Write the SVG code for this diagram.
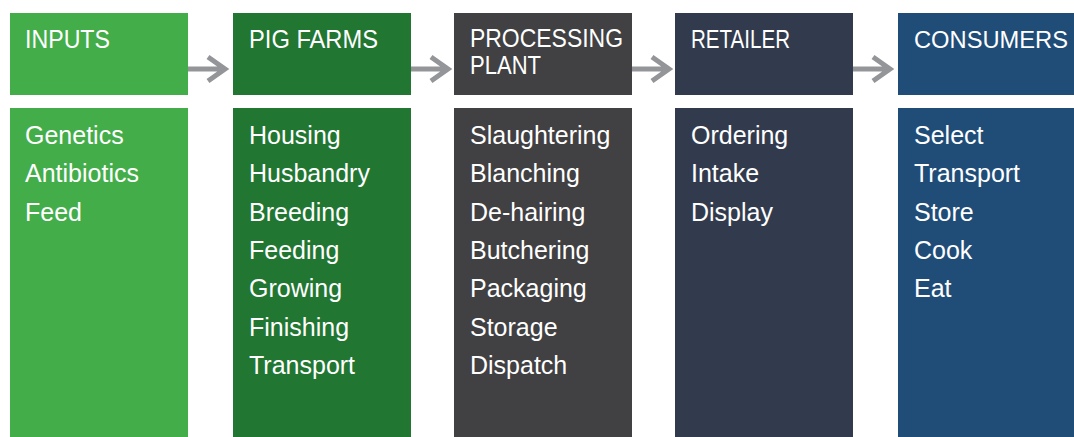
<svg xmlns="http://www.w3.org/2000/svg" width="1074" height="437" viewBox="0 0 1074 437">
<style>
.hd{font-family:"Liberation Sans",Arial,sans-serif;font-size:25px;fill:#fff}
.bd{font-family:"Liberation Sans",Arial,sans-serif;font-size:25px;fill:#fff}
.arr{fill:none;stroke:#939598;stroke-width:5}
</style>
<rect width="1074" height="437" fill="#fff"/>
<g id="connectors">
<path class="arr" d="M188 69H224M208 57L225 69L208 81"/>
<path class="arr" d="M411 69H447M431 57L448 69L431 81"/>
<path class="arr" d="M632 69H668M652 57L669 69L652 81"/>
<path class="arr" d="M853 69H889M873 57L890 69L873 81"/>
</g>
<g id="inputs">
<rect x="10" y="13" width="178" height="82" fill="#43AD4A"/>
<rect x="10" y="108" width="178" height="329" fill="#43AD4A"/>
<text class="hd" x="25" y="48" textLength="85" lengthAdjust="spacingAndGlyphs">INPUTS</text>
<text class="bd" x="25" y="144">Genetics</text>
<text class="bd" x="25" y="182.3">Antibiotics</text>
<text class="bd" x="25" y="220.6">Feed</text>
</g>
<g id="pig-farms">
<rect x="233" y="13" width="178" height="82" fill="#217632"/>
<rect x="233" y="108" width="178" height="329" fill="#217632"/>
<text class="hd" x="249" y="48" textLength="129" lengthAdjust="spacingAndGlyphs">PIG FARMS</text>
<text class="bd" x="249" y="144">Housing</text>
<text class="bd" x="249" y="182.3">Husbandry</text>
<text class="bd" x="249" y="220.6">Breeding</text>
<text class="bd" x="249" y="258.9">Feeding</text>
<text class="bd" x="249" y="297.2">Growing</text>
<text class="bd" x="249" y="335.5">Finishing</text>
<text class="bd" x="249" y="373.8">Transport</text>
</g>
<g id="processing-plant">
<rect x="454" y="13" width="178" height="82" fill="#414042"/>
<rect x="454" y="108" width="178" height="329" fill="#414042"/>
<text class="hd" x="470" y="47" textLength="153" lengthAdjust="spacingAndGlyphs">PROCESSING</text>
<text class="hd" x="470" y="74" textLength="71" lengthAdjust="spacingAndGlyphs">PLANT</text>
<text class="bd" x="470" y="144">Slaughtering</text>
<text class="bd" x="470" y="182.3">Blanching</text>
<text class="bd" x="470" y="220.6">De-hairing</text>
<text class="bd" x="470" y="258.9">Butchering</text>
<text class="bd" x="470" y="297.2">Packaging</text>
<text class="bd" x="470" y="335.5">Storage</text>
<text class="bd" x="470" y="373.8">Dispatch</text>
</g>
<g id="retailer">
<rect x="675" y="13" width="178" height="82" fill="#323B4E"/>
<rect x="675" y="108" width="178" height="329" fill="#323B4E"/>
<text class="hd" x="691" y="48" textLength="99" lengthAdjust="spacingAndGlyphs">RETAILER</text>
<text class="bd" x="691" y="144">Ordering</text>
<text class="bd" x="691" y="182.3">Intake</text>
<text class="bd" x="691" y="220.6">Display</text>
</g>
<g id="consumers">
<rect x="898" y="13" width="178" height="82" fill="#1F4D78"/>
<rect x="898" y="108" width="178" height="329" fill="#1F4D78"/>
<text class="hd" x="914" y="48" font-size="23" style="font-size:23px" textLength="154" lengthAdjust="spacingAndGlyphs">CONSUMERS</text>
<text class="bd" x="914" y="144">Select</text>
<text class="bd" x="914" y="182.3">Transport</text>
<text class="bd" x="914" y="220.6">Store</text>
<text class="bd" x="914" y="258.9">Cook</text>
<text class="bd" x="914" y="297.2">Eat</text>
</g>
</svg>
